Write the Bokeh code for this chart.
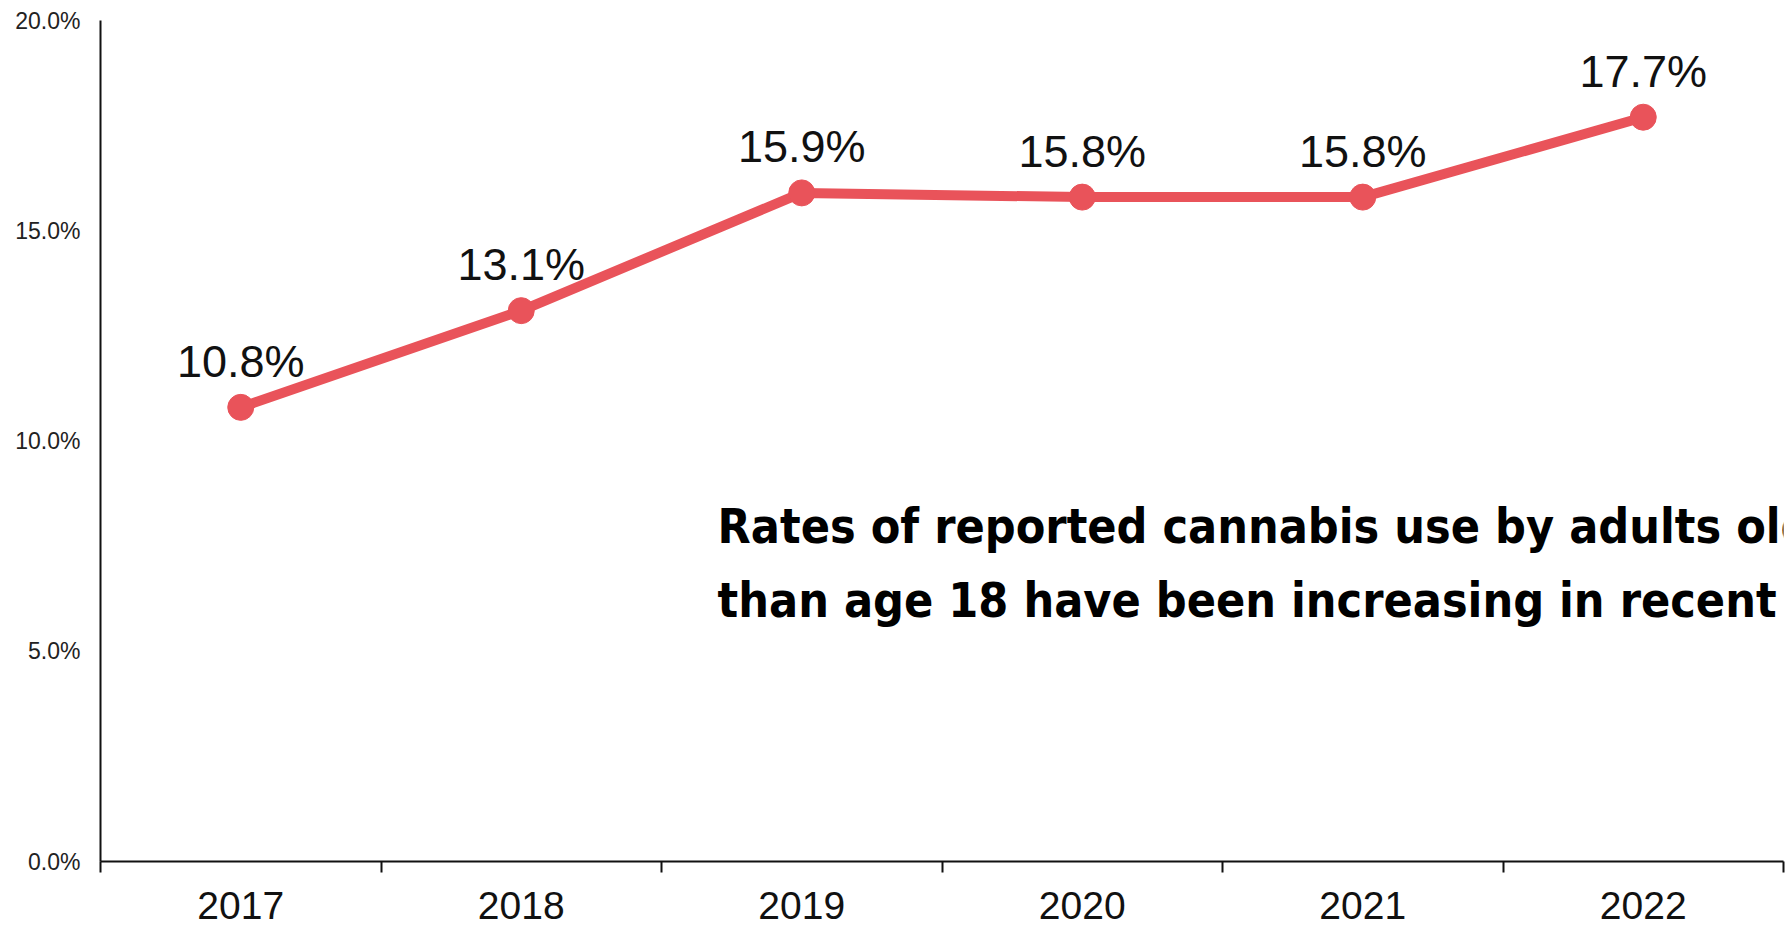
from bokeh.plotting import figure
from bokeh.models import Range1d, FixedTicker, PrintfTickFormatter, ColumnDataSource
from bokeh.core.properties import value
from bokeh.embed import file_html
from bokeh.resources import INLINE

years = [2017, 2018, 2019, 2020, 2021, 2022]
rates = [10.8, 13.1, 15.9, 15.8, 15.8, 17.7]
rate_labels = [f"{v:.1f}%" for v in rates]
y_ticks = [0, 5, 10, 15, 20]
note_lines = ["Rates of reported cannabis use by adults older",
              "than age 18 have been increasing in recent years"]

RED = "#E9535A"
NOTE_FONT = value("DejaVu Sans Condensed")

p = figure(width=1786, height=925, output_backend="svg", toolbar_location=None,
           x_range=Range1d(years[0] - 0.5, years[-1] + 0.5),
           y_range=Range1d(y_ticks[0], y_ticks[-1]),
           min_border_left=100, min_border_right=3, min_border_top=20, min_border_bottom=64)
p.outline_line_color = None
p.xgrid.visible = False
p.ygrid.visible = False
p.background_fill_color = "white"
p.border_fill_color = "white"

# y axis
p.yaxis.ticker = FixedTicker(ticks=y_ticks)
p.yaxis.formatter = PrintfTickFormatter(format="%.1f%%")
p.yaxis.major_tick_out = 0
p.yaxis.major_tick_in = 0
p.yaxis.minor_tick_out = 0
p.yaxis.minor_tick_in = 0
p.yaxis.axis_line_color = "#111111"
p.yaxis.axis_line_width = 2
p.yaxis.major_label_text_font = "Liberation Sans"
p.yaxis.major_label_text_font_size = "23px"
p.yaxis.major_label_text_color = "#222222"
p.yaxis.major_label_standoff = 20

# x axis
bounds = [y - 0.5 for y in years] + [years[-1] + 0.5]
p.xaxis.ticker = FixedTicker(ticks=years, minor_ticks=bounds)
p.xaxis.formatter = PrintfTickFormatter(format="%d")
p.xaxis.major_tick_out = 0
p.xaxis.major_tick_in = 0
p.xaxis.minor_tick_out = 11
p.xaxis.minor_tick_in = 0
p.xaxis.minor_tick_line_color = "#111111"
p.xaxis.minor_tick_line_width = 2
p.xaxis.axis_line_color = "#111111"
p.xaxis.axis_line_width = 2
p.xaxis.major_label_text_font = "Liberation Sans"
p.xaxis.major_label_text_font_size = "39px"
p.xaxis.major_label_text_color = "#111111"
p.xaxis.major_label_standoff = 19

src = ColumnDataSource(dict(x=years, y=rates, label=rate_labels))
p.line("x", "y", source=src, line_color=RED, line_width=10)
p.scatter("x", "y", source=src, size=26, fill_color=RED, line_color=RED)
p.text("x", "y", text="label", source=src, text_align="center", text_baseline="alphabetic",
       y_offset=-46, text_font=value("Liberation Sans"), text_font_size="45px", text_color="#111111")

note_x = 2018.70
note_y = 7.54
p.text(x=[note_x], y=[note_y], text=[note_lines[0]], text_align="left", text_baseline="alphabetic",
       y_offset=-18, text_font=NOTE_FONT, text_font_style="bold", text_font_size="48px",
       text_color="black")
p.text(x=[note_x], y=[note_y], text=[note_lines[1]], text_align="left", text_baseline="alphabetic",
       y_offset=56, text_font=NOTE_FONT, text_font_style="bold",
       text_font_size="48px", text_color="black")

open("out.html", "w").write(file_html(p, INLINE))
